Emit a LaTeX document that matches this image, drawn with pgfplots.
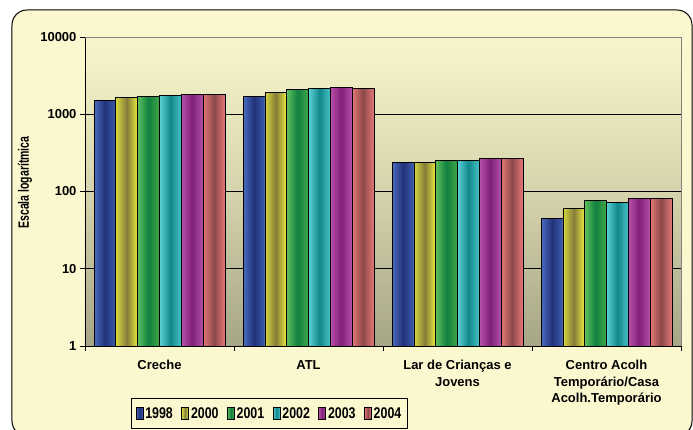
\documentclass[border=0pt]{standalone}
\usepackage{fontspec}
\setmainfont{Liberation Sans}
\newfontfamily\narrow{Liberation Sans}[FakeStretch=0.8]
\newfontfamily\ylabfont{Liberation Sans}[FakeStretch=0.7]
\usepackage{pgfplots}
\pgfplotsset{compat=1.18}

\definecolor{cream}{HTML}{FBF8D0}
\definecolor{bgtop}{HTML}{F8F6CC}
\definecolor{bgmid}{HTML}{D6D4AC}
\definecolor{bgbot}{HTML}{A6A586}

\definecolor{aL}{HTML}{4A6CC0}\definecolor{aM}{HTML}{223278}\definecolor{aR}{HTML}{3C5CB0}
\definecolor{bL}{HTML}{D8D840}\definecolor{bM}{HTML}{847C38}\definecolor{bR}{HTML}{ECEC40}
\definecolor{cL}{HTML}{5CC05C}\definecolor{cM}{HTML}{128040}\definecolor{cR}{HTML}{40A848}
\definecolor{dL}{HTML}{5CD0D8}\definecolor{dM}{HTML}{108888}\definecolor{dR}{HTML}{48C0C8}
\definecolor{eL}{HTML}{B850A8}\definecolor{eM}{HTML}{802078}\definecolor{eR}{HTML}{B450A8}
\definecolor{fL}{HTML}{E47878}\definecolor{fM}{HTML}{8C4848}\definecolor{fR}{HTML}{E47878}

\tikzset{
  bars/.style={draw=black, line width=0.8pt},
  s1998/.style={bars, left color=aL, right color=aR, middle color=aM},
  s2000/.style={bars, left color=bL, right color=bR, middle color=bM},
  s2001/.style={bars, left color=cL, right color=cR, middle color=cM},
  s2002/.style={bars, left color=dL, right color=dR, middle color=dM},
  s2003/.style={bars, left color=eL, right color=eR, middle color=eM},
  s2004/.style={bars, left color=fL, right color=fR, middle color=fM},
}
% one bar per \addplot so that every bar gets its own shading
\pgfplotsset{
  y1998/.style={s1998, bar shift=-54.5pt, forget plot},
  y2000/.style={s2000, bar shift=-32.7pt, forget plot},
  y2001/.style={s2001, bar shift=-10.9pt, forget plot},
  y2002/.style={s2002, bar shift=10.9pt, forget plot},
  y2003/.style={s2003, bar shift=32.7pt, forget plot},
  y2004/.style={s2004, bar shift=54.5pt, forget plot},
}

\begin{document}
\begin{tikzpicture}
\useasboundingbox (-85pt,-84pt) rectangle (608pt,346pt);
\begin{scope}
  \clip (-85pt,-84pt) rectangle (608pt,346pt);
  \draw[line width=1pt, fill=cream, rounded corners=15pt] (-73pt,-90pt) rectangle (607pt,336pt);
\end{scope}
\begin{axis}[
    name=ax,
    at={(0,0)}, anchor=south west,
    scale only axis,
    width=596pt, height=309pt,
    ybar, bar width=21.8pt,
    ymode=log, ymin=1, ymax=10000,
    xmin=-0.5, xmax=3.5,
    enlarge x limits=false, enlarge y limits=false,
    axis x line*=bottom, axis y line*=left,
    axis line style={black, line width=0.8pt},
    axis background/.style={top color=bgtop, bottom color=bgbot, middle color=bgmid},
    ytick={1,10,100,1000,10000},
    yticklabels={1,10,100,1000,10000},
    yminorticks=false,
    xtick={0,1,2,3},
    xticklabels={Creche, ATL, {Lar de Crianças e\\Jovens}, {Centro Acolh\\Temporário/Casa\\Acolh.Temporário}},
    minor xtick={-0.5,0.5,1.5,2.5,3.5},
    major x tick style={draw=none},
    tick align=outside,
    major tick length=5pt, minor tick length=5pt,
    tick style={black, line width=0.8pt},
    ymajorgrids=true,
    grid style={black, line width=0.8pt},
    /pgf/number format/assume math mode=true,
    yticklabel style={font=\fontsize{13}{15}\selectfont\bfseries},
    xticklabel style={font=\fontsize{13}{16.5}\selectfont\bfseries, align=center, yshift=-6pt},
    ylabel={Escala logarítmica},
    every axis y label/.style={at={(axis description cs:-0.1007,0.529)}, rotate=90, anchor=center,
      font=\ylabfont\bfseries\fontsize{15}{17}\selectfont},
    legend columns=6,
    legend style={at={(axis description cs:0.3096,-0.2184)}, anchor=center,
      draw=black, line width=0.8pt, fill=cream,
      font=\narrow\bfseries\fontsize{15.5}{17}\selectfont,
      inner ysep=6.5pt, inner xsep=4pt,
      /tikz/every even column/.append style={column sep=6.5pt}},
    legend image code/.code={\draw[#1, line width=0.6pt] (0pt,-6pt) rectangle (7pt,6pt);},
]
% Creche, ATL, Lar de Criancas e Jovens, Centro Acolh.
\addplot[y1998] coordinates {(0,1490)};
\addplot[y1998] coordinates {(1,1690)};
\addplot[y1998] coordinates {(2,236)};
\addplot[y1998] coordinates {(3,45)};

\addplot[y2000] coordinates {(0,1630)};
\addplot[y2000] coordinates {(1,1890)};
\addplot[y2000] coordinates {(2,236)};
\addplot[y2000] coordinates {(3,61)};

\addplot[y2001] coordinates {(0,1680)};
\addplot[y2001] coordinates {(1,2070)};
\addplot[y2001] coordinates {(2,255)};
\addplot[y2001] coordinates {(3,76)};

\addplot[y2002] coordinates {(0,1745)};
\addplot[y2002] coordinates {(1,2150)};
\addplot[y2002] coordinates {(2,255)};
\addplot[y2002] coordinates {(3,72)};

\addplot[y2003] coordinates {(0,1800)};
\addplot[y2003] coordinates {(1,2245)};
\addplot[y2003] coordinates {(2,266)};
\addplot[y2003] coordinates {(3,81)};

\addplot[y2004] coordinates {(0,1800)};
\addplot[y2004] coordinates {(1,2150)};
\addplot[y2004] coordinates {(2,266)};
\addplot[y2004] coordinates {(3,81)};

\addlegendimage{s1998}\addlegendentry{1998}
\addlegendimage{s2000}\addlegendentry{2000}
\addlegendimage{s2001}\addlegendentry{2001}
\addlegendimage{s2002}\addlegendentry{2002}
\addlegendimage{s2003}\addlegendentry{2003}
\addlegendimage{s2004}\addlegendentry{2004}
\end{axis}
\draw[gray, line width=0.8pt] (ax.north west) -- (ax.north east) -- (ax.south east);
\end{tikzpicture}
\end{document}
